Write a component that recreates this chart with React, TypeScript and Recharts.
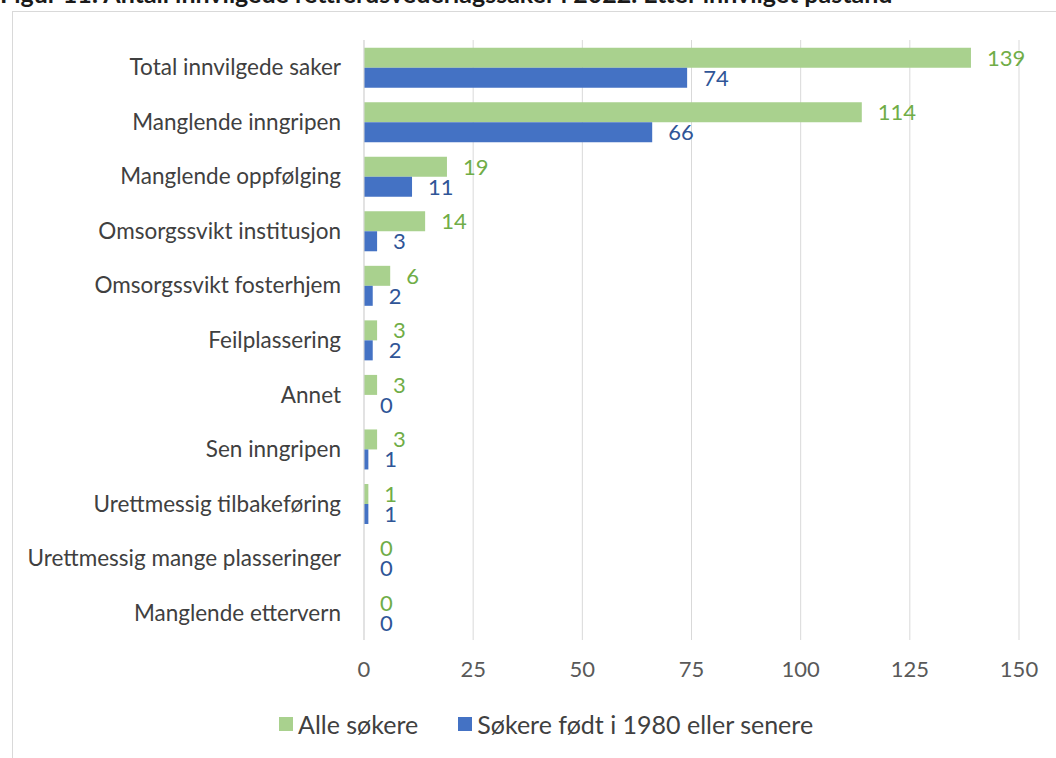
import React from 'react'
import { BarChart, Bar, XAxis, YAxis, CartesianGrid, LabelList } from 'recharts'

const CATEGORIES = [
  'Total innvilgede saker',
  'Manglende inngripen',
  'Manglende oppfølging',
  'Omsorgssvikt institusjon',
  'Omsorgssvikt fosterhjem',
  'Feilplassering',
  'Annet',
  'Sen inngripen',
  'Urettmessig tilbakeføring',
  'Urettmessig mange plasseringer',
  'Manglende ettervern',
]
const ALLE = [139, 114, 19, 14, 6, 3, 3, 3, 1, 0, 0]
const ETTER_1980 = [74, 66, 11, 3, 2, 2, 0, 1, 1, 0, 0]
const X_TICKS = [0, 25, 50, 75, 100, 125, 150]

const SERIES = [
  { key: 'alle', label: 'Alle søkere', fill: '#a9d18e', text: '#70ad47' },
  { key: 'etter', label: 'Søkere født i 1980 eller senere', fill: '#4472c4', text: '#2f5597' },
]

const FONT = 'Lato, "Open Sans", sans-serif'

// zero bars still get their value printed, like the original
function valueLabel(color: string) {
  return (p: any) => {
    const x = Number(p.x) + Math.max(Number(p.width || 0), 0) + 16
    const y = Number(p.y) + Number(p.height) / 2
    return (
      <text x={x} y={y} dy="0.36em" fill={color} fontSize={22} fontFamily={FONT}>
        {p.value}
      </text>
    )
  }
}

// tiny size so recharts keeps the zero entries (and their labels)
const minSize = (v: any) => (v === 0 ? 0.01 : 0)

export default function App() {
  const data = CATEGORIES.map((name, i) => ({ name, alle: ALLE[i], etter: ETTER_1980[i] }))

  return (
    <div style={{ position: 'fixed', left: 0, top: 0, width: 1056, height: 758, overflow: 'hidden', background: '#fff', fontFamily: FONT }}>
      <div style={{ position: 'absolute', left: 0, top: -22, whiteSpace: 'nowrap', fontWeight: 700, fontSize: 25, color: '#1a1a1a' }}>
        Figur 11: Antall innvilgede rettferdsvederlagssaker i 2022. Etter innvilget påstand
      </div>
      <div style={{ position: 'absolute', left: 12, top: 11, width: 1100, height: 800, border: '1px solid #d9d9d9' }} />
      <div style={{ position: 'absolute', left: 0, top: 0 }}>
        <BarChart width={1056} height={758} data={data} layout="vertical"
          margin={{ top: 40, right: 37, left: 0, bottom: 0 }} barCategoryGap="14%" barGap={0}>
          <CartesianGrid horizontal={false} stroke="#d9d9d9" />
          <XAxis type="number" domain={[0, 150]} ticks={X_TICKS} height={118}
            axisLine={false} tickLine={false} tickMargin={15}
            tick={{ fontSize: 22, fill: '#595959', fontFamily: FONT }} />
          <YAxis type="category" dataKey="name" width={364}
            axisLine={{ stroke: '#d9d9d9' }} tickLine={false} tickSize={0} tickMargin={23}
            tick={{ fontSize: 22.5, fill: '#404040', fontFamily: FONT }} />
          {SERIES.map((s) => (
            <Bar key={s.key} dataKey={s.key} fill={s.fill} minPointSize={minSize} isAnimationActive={false}>
              <LabelList dataKey={s.key} content={valueLabel(s.text)} />
            </Bar>
          ))}
        </BarChart>
      </div>
      <div style={{ position: 'absolute', left: 279, top: 709, display: 'flex', alignItems: 'center', gap: 40, fontSize: 25, color: '#404040' }}>
        {SERIES.map((s) => (
          <div key={s.key} style={{ display: 'flex', alignItems: 'center', gap: 5 }}>
            <span style={{ display: 'inline-block', width: 14, height: 14, background: s.fill }} />
            {s.label}
          </div>
        ))}
      </div>
    </div>
  )
}
